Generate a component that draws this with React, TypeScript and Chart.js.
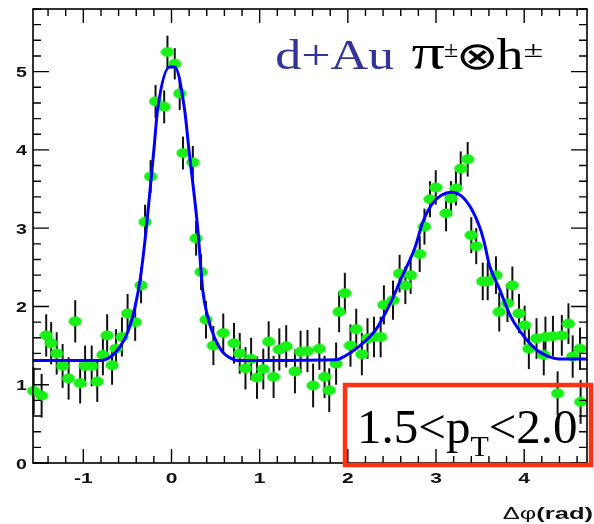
import { useEffect, useRef } from "react";
import { Chart, registerables } from "chart.js";

Chart.register(...registerables);

// Δφ bin centres (rad) of the d+Au π±–h± correlation
const PHI = [
  -1.563, -1.473, -1.421, -1.365, -1.302, -1.235, -1.167, -1.092, -1.036, -0.98,
  -0.905, -0.842, -0.778, -0.73, -0.674, -0.629, -0.562, -0.498, -0.412, -0.345,
  -0.3, -0.237, -0.181, -0.083, -0.046, 0.037, 0.093, 0.13, 0.242, 0.279,
  0.335, 0.391, 0.475, 0.587, 0.709, 0.774, 0.839, 0.903, 0.97, 1.041,
  1.102, 1.158, 1.223, 1.301, 1.4, 1.464, 1.542, 1.606, 1.677, 1.736,
  1.789, 1.867, 1.901, 1.966, 2.03, 2.095, 2.159, 2.223, 2.297, 2.372,
  2.409, 2.512, 2.587, 2.652, 2.712, 2.815, 2.869, 2.932, 2.997, 3.114,
  3.17, 3.226, 3.28, 3.359, 3.4, 3.456, 3.53, 3.586, 3.68, 3.717,
  3.81, 3.866, 3.941, 4.005, 4.053, 4.14, 4.222, 4.241, 4.326, 4.379,
  4.427, 4.502, 4.55, 4.633, 4.64,
];

// per-trigger pair yield
const YIELD = [
  0.92, 0.86, 1.63, 1.53, 1.4, 1.24, 1.08, 1.81, 1.02, 1.24,
  1.24, 1.04, 1.38, 1.63, 1.25, 1.46, 1.61, 1.91, 1.8, 2.27,
  3.08, 3.66, 4.62, 4.55, 5.25, 5.1, 4.72, 3.96, 3.84, 2.87,
  2.44, 1.83, 1.5, 1.66, 1.53, 1.4, 1.21, 1.33, 1.09, 1.2,
  1.55, 1.1, 1.45, 1.49, 1.17, 1.42, 1.43, 0.99, 1.46, 1.1,
  0.93, 1.27, 1.93, 2.17, 1.5, 1.71, 1.39, 1.59, 1.61, 1.61,
  2.02, 2.08, 2.42, 2.27, 2.4, 2.67, 3.02, 3.37, 3.52, 3.19,
  3.38, 3.51, 3.76, 3.88, 2.91, 2.77, 2.32, 2.32, 2.4, 1.93,
  2.04, 2.27, 1.91, 1.76, 1.46, 1.59, 1.38, 1.61, 1.62, 0.89,
  1.63, 1.78, 1.36, 1.46, 0.78,
];

// statistical errors
const ERR = [
  0.3, 0.28, 0.27, 0.27, 0.27, 0.28, 0.27, 0.27, 0.26, 0.26,
  0.26, 0.26, 0.26, 0.27, 0.25, 0.25, 0.25, 0.25, 0.24, 0.23,
  0.22, 0.21, 0.21, 0.21, 0.21, 0.2, 0.21, 0.21, 0.21, 0.22,
  0.23, 0.24, 0.25, 0.25, 0.26, 0.26, 0.27, 0.27, 0.27, 0.26,
  0.26, 0.27, 0.27, 0.27, 0.28, 0.27, 0.27, 0.28, 0.27, 0.27,
  0.28, 0.27, 0.26, 0.26, 0.27, 0.26, 0.27, 0.26, 0.26, 0.26,
  0.25, 0.25, 0.24, 0.24, 0.24, 0.23, 0.23, 0.23, 0.22, 0.23,
  0.22, 0.22, 0.22, 0.22, 0.23, 0.23, 0.24, 0.24, 0.24, 0.25,
  0.24, 0.24, 0.25, 0.25, 0.26, 0.26, 0.26, 0.26, 0.26, 0.28,
  0.26, 0.26, 0.27, 0.27, 0.28,
];

// double-Gaussian + pedestal fit
const FIT_PHI = [
  -1.571, -0.8, -0.711, -0.58, -0.487, -0.412, -0.356, -0.3, -0.199, -0.158,
  -0.02, 0.037, 0.149, 0.197, 0.298, 0.354, 0.41, 0.485, 0.578, 0.671,
  0.746, 1.867, 1.96, 2.128, 2.316, 2.465, 2.615, 2.764, 2.85, 2.95,
  3.06, 3.175, 3.29, 3.4, 3.5, 3.549, 3.605, 3.717, 3.848, 4.016,
  4.146, 4.278, 4.39, 4.712,
];
const FIT_Y = [
  1.31, 1.31, 1.34, 1.49, 1.7, 2.0, 2.34, 2.85, 4.01, 4.51,
  5.06, 5.06, 4.51, 4.01, 2.99, 2.21, 1.87, 1.61, 1.42, 1.34,
  1.31, 1.32, 1.36, 1.49, 1.7, 2.0, 2.38, 2.76, 3.08, 3.3,
  3.42, 3.46, 3.41, 3.25, 3.0, 2.81, 2.53, 2.23, 1.87, 1.59,
  1.44, 1.36, 1.33, 1.33,
];

const X_TICKS = [-1, 0, 1, 2, 3, 4];
const Y_TICKS = [0, 1, 2, 3, 4, 5];
const X_MIN = -Math.PI / 2;
const X_MAX = (3 * Math.PI) / 2;
const Y_MAX = 5.8;

const LABEL_FONT = "bold 14px 'Liberation Sans', Arial, sans-serif";
const LABEL_STRETCH = 1.5;

function drawStretched(
  ctx: CanvasRenderingContext2D,
  text: string,
  x: number,
  y: number,
  font: string,
  sx: number,
  align: "left" | "center" | "right",
  color = "#000"
) {
  ctx.save();
  ctx.font = font;
  ctx.fillStyle = color;
  ctx.textAlign = "left";
  ctx.textBaseline = "alphabetic";
  const w = ctx.measureText(text).width * sx;
  const left = align === "right" ? x - w : align === "center" ? x - w / 2 : x;
  ctx.translate(left, y);
  ctx.scale(sx, 1);
  ctx.fillText(text, 0, 0);
  ctx.restore();
  return w;
}

// draws a glyph squeezed or widened so that its ink spans the given width
function drawToWidth(
  ctx: CanvasRenderingContext2D,
  text: string,
  left: number,
  y: number,
  font: string,
  width: number,
  color = "#000"
) {
  ctx.save();
  ctx.font = font;
  const m = ctx.measureText(text);
  const ink = m.actualBoundingBoxLeft + m.actualBoundingBoxRight || m.width;
  const sx = width / ink;
  ctx.fillStyle = color;
  ctx.textAlign = "left";
  ctx.textBaseline = "alphabetic";
  ctx.translate(left + m.actualBoundingBoxLeft * sx, y);
  ctx.scale(sx, 1);
  ctx.fillText(text, 0, 0);
  ctx.restore();
}

function makeMarker() {
  const c = document.createElement("canvas");
  c.width = 14;
  c.height = 11;
  const g = c.getContext("2d")!;
  g.fillStyle = "rgb(24,240,24)";
  g.beginPath();
  g.ellipse(7, 5.5, 6.6, 5, 0, 0, Math.PI * 2);
  g.fill();
  return c;
}

// tick labels and error bars, beneath the markers
const underlay = {
  id: "underlay",
  beforeDatasetsDraw(chart: any) {
    const { ctx, chartArea: a, scales } = chart;
    const x = scales.x;
    const y = scales.y;
    X_TICKS.forEach((v) => {
      const label = v < 0 ? "-" + Math.abs(v) : String(v);
      drawStretched(ctx, label, x.getPixelForValue(v), a.bottom + 20, LABEL_FONT, LABEL_STRETCH, "center", "#111");
    });
    Y_TICKS.forEach((v) => {
      drawStretched(ctx, String(v), a.left - 6, y.getPixelForValue(v) + 5.5, LABEL_FONT, 1.4, "right", "#111");
    });
    ctx.save();
    ctx.strokeStyle = "#111";
    ctx.lineWidth = 2;
    PHI.forEach((p, i) => {
      const px = x.getPixelForValue(p);
      ctx.beginPath();
      ctx.moveTo(px, y.getPixelForValue(YIELD[i] - ERR[i]));
      ctx.lineTo(px, y.getPixelForValue(YIELD[i] + ERR[i]));
      ctx.stroke();
    });
    ctx.restore();
  },
};

// frame with inward ticks, axis title and annotations
const overlay = {
  id: "overlay",
  afterDatasetsDraw(chart: any) {
    const { ctx, chartArea: a, scales } = chart;
    const x = scales.x;
    const y = scales.y;
    ctx.save();
    ctx.strokeStyle = "#000";
    ctx.lineWidth = 1.6;
    ctx.strokeRect(a.left, a.top, a.right - a.left, a.bottom - a.top);
    ctx.lineWidth = 1.4;
    ctx.beginPath();
    for (let i = -10; i <= 25; i++) {
      const v = i / 5;
      if (v < X_MIN || v > X_MAX) continue;
      const px = x.getPixelForValue(v);
      const len = i % 5 === 0 ? 14 : 7;
      ctx.moveTo(px, a.bottom);
      ctx.lineTo(px, a.bottom - len);
      ctx.moveTo(px, a.top);
      ctx.lineTo(px, a.top + len);
    }
    for (let i = 0; i <= 30; i++) {
      const v = i / 5;
      if (v > Y_MAX) continue;
      const py = y.getPixelForValue(v);
      const len = i % 5 === 0 ? 16 : 8;
      ctx.moveTo(a.left, py);
      ctx.lineTo(a.left + len, py);
      ctx.moveTo(a.right, py);
      ctx.lineTo(a.right - len, py);
    }
    ctx.stroke();
    ctx.restore();

    // axis title
    const sansBold = "bold 17px 'Liberation Sans', Arial, sans-serif";
    const radW = drawStretched(ctx, "(rad)", 593, 519, sansBold, 1.5, "right", "#111");
    drawStretched(ctx, "Δφ", 593 - radW, 519, "17px 'Liberation Sans', Arial, sans-serif", 1.5, "right", "#111");

    // collision system title
    const serif = "'Liberation Serif', 'Times New Roman', serif";
    drawToWidth(ctx, "d+Au", 276.5, 68.5, `43px ${serif}`, 117, "#333399");
    drawToWidth(ctx, "π", 411.5, 69, `50px ${serif}`, 33);
    drawToWidth(ctx, "±", 445, 56.5, `24px ${serif}`, 13);
    drawToWidth(ctx, "⊗", 460, 69, `38px 'DejaVu Sans', sans-serif`, 35);
    drawToWidth(ctx, "h", 496.5, 68.5, `44px ${serif}`, 27);
    drawToWidth(ctx, "±", 525, 56.5, `24px ${serif}`, 18);

    // transverse momentum window
    ctx.save();
    ctx.strokeStyle = "#ff3311";
    ctx.lineWidth = 4.5;
    ctx.strokeRect(345, 385, 246, 80);
    ctx.fillStyle = "#000";
    ctx.textBaseline = "alphabetic";
    ctx.textAlign = "left";
    ctx.font = `49px ${serif}`;
    let tx = 357;
    ctx.fillText("1.5<p", tx, 443);
    tx += ctx.measureText("1.5<p").width;
    ctx.font = `30px ${serif}`;
    ctx.fillText("T", tx, 456);
    tx += ctx.measureText("T").width;
    ctx.font = `49px ${serif}`;
    ctx.fillText("<2.0", tx, 443);
    ctx.restore();
  },
};

export default function App() {
  const ref = useRef<HTMLCanvasElement>(null);

  useEffect(() => {
    const marker = makeMarker();
    const chart = new Chart(ref.current!, {
      type: "scatter",
      data: {
        datasets: [
          {
            type: "line",
            data: FIT_PHI.map((p, i) => ({ x: p, y: FIT_Y[i] })),
            borderColor: "#0000ff",
            borderWidth: 3,
            pointRadius: 0,
            cubicInterpolationMode: "monotone",
            fill: false,
            order: 1,
          },
          {
            data: PHI.map((p, i) => ({ x: p, y: YIELD[i] })),
            pointStyle: marker as any,
            pointRadius: 6,
            showLine: false,
            clip: false as any,
            order: 2,
          },
        ],
      },
      options: {
        responsive: false,
        animation: false,
        devicePixelRatio: 1,
        layout: { padding: { top: 9, left: 0, right: 0, bottom: 0 } },
        plugins: { legend: { display: false }, tooltip: { enabled: false } },
        scales: {
          x: {
            type: "linear",
            min: X_MIN,
            max: X_MAX,
            grid: { display: false },
            border: { display: false },
            ticks: { display: false },
            afterFit: (s: any) => {
              s.height = 61;
            },
          },
          y: {
            type: "linear",
            min: 0,
            max: Y_MAX,
            grid: { display: false },
            border: { display: false },
            ticks: { display: false },
            afterFit: (s: any) => {
              s.width = 33;
            },
          },
        },
      },
      plugins: [underlay, overlay],
    });
    return () => chart.destroy();
  }, []);

  return (
    <div style={{ position: "fixed", left: 0, top: 0, width: 594, height: 524, background: "#fff" }}>
      <canvas ref={ref} width={594} height={524} style={{ display: "block", width: 594, height: 524 }} />
    </div>
  );
}
